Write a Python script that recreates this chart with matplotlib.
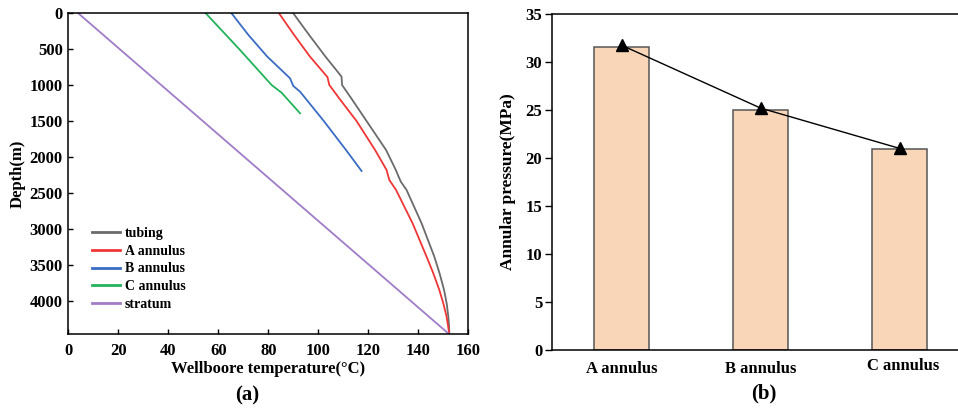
import matplotlib
matplotlib.use("Agg")
import matplotlib.pyplot as plt
import matplotlib.transforms as mtransforms

plt.rcParams['font.family'] = ['Liberation Serif', 'DejaVu Serif']
plt.rcParams['font.weight'] = 'bold'
plt.rcParams['axes.labelweight'] = 'bold'

# (a) wellbore temperature profiles: depth (m) vs temperature (C)
tubing_depth = [0, 300, 600, 882, 998, 1200, 1500, 1903, 2181, 2297, 2344, 2460,
                2923, 3388, 3620, 3852, 4050, 4223, 4350, 4470]
tubing_temp = [90, 96.3, 102.8, 109.3, 109.5, 113.5, 119.3, 127.1, 131.0, 132.4, 133.0,
               135.3, 141.3, 146.4, 148.5, 150.3, 151.4, 152.0, 152.3, 152.4]

a_depth = [0, 300, 600, 890, 998, 1200, 1500, 1903, 2181, 2320, 2460, 2923, 3388,
           3620, 3852, 4050, 4223, 4350, 4470]
a_temp = [84.3, 90.3, 96.6, 103.7, 104.4, 108.7, 115.3, 122.7, 127.3, 128.4, 131.1,
          137.7, 143.3, 146.0, 148.4, 150.1, 151.3, 151.9, 152.4]

b_depth = [0, 300, 600, 905, 1012, 1091, 1500, 1900, 2195]
b_temp = [65.3, 72.0, 79.5, 88.7, 90.0, 92.7, 102.2, 111.0, 117.3]

c_depth = [0, 511, 998, 1105, 1392]
c_temp = [55.0, 68.7, 81.3, 85.3, 92.7]

stratum_depth = [0, 4470]
stratum_temp = [4.0, 152.4]

# (b) annular pressure
annulus = ['A annulus', 'B annulus', 'C annulus']
pressure = [31.6, 25.05, 20.9]
pressure_line = [31.75, 25.2, 21.0]

fig = plt.figure(figsize=(9.58, 4.08), dpi=100)

# ---- panel (a)
ax1 = fig.add_axes([68.3 / 958, 1 - 334.3 / 408, 400 / 958, 321 / 408])
ax1.plot(tubing_temp, tubing_depth, color='#6b6b6b', lw=1.3, label='tubing')
ax1.plot(a_temp, a_depth, color='#f03535', lw=1.3, label='A annulus')
ax1.plot(b_temp, b_depth, color='#3a6cc4', lw=1.3, label='B annulus')
ax1.plot(c_temp, c_depth, color='#22b35a', lw=1.3, label='C annulus')
ax1.plot(stratum_temp, stratum_depth, color='#a07cc8', lw=1.3, label='stratum')
ax1.set_xlim(0, 160)
ax1.set_ylim(4470, 0)
ax1.set_xticks(range(0, 161, 20))
ax1.set_yticks(range(0, 4001, 500))
ax1.tick_params(direction='in', length=3.6, width=1, labelsize=12, top=False, right=False)
ax1.tick_params(axis='x', pad=6)
ax1.tick_params(axis='y', pad=4)
for lab in ax1.get_xticklabels() + ax1.get_yticklabels():
    lab.set_fontweight('bold')
for sp in ax1.spines.values():
    sp.set_linewidth(1.1)
ax1.set_xlabel('Wellboore temperature(°C)', fontsize=12, labelpad=2)
ax1.set_ylabel('Depth(m)', fontsize=12, labelpad=3)
leg = ax1.legend(loc='lower left', bbox_to_anchor=(0.028, 0.035), frameon=False,
                 fontsize=10, handlelength=2.0, handletextpad=0.35, labelspacing=0.33)
for line in leg.get_lines():
    line.set_linewidth(2)

# ---- panel (b)
ax2 = fig.add_axes([552 / 958, 1 - 350 / 408, 406 / 958, 336 / 408])
x = range(len(annulus))
ax2.bar(x, pressure, width=0.4, color='#f9d6b8', edgecolor='#555555', linewidth=1.1, zorder=2)
ax2.plot(x, pressure_line, color='black', lw=1, marker='^', markersize=9, zorder=3)
ax2.set_xlim(-0.5, 2.42)
ax2.set_ylim(0, 35)
ax2.set_yticks(range(0, 36, 5))
ax2.set_xticks(list(x))
ax2.set_xticklabels(annulus)
ax2.spines['right'].set_visible(False)
for sp in ax2.spines.values():
    sp.set_linewidth(1.1)
ax2.tick_params(axis='y', direction='out', length=5, width=1, labelsize=12, pad=2)
ax2.tick_params(axis='x', length=0, labelsize=12, pad=8)
for lab in ax2.get_xticklabels() + ax2.get_yticklabels():
    lab.set_fontweight('bold')
# C annulus label sits a little higher in the original
c_lab = ax2.get_xticklabels()[2]
c_lab.set_transform(c_lab.get_transform() +
                    mtransforms.ScaledTranslation(0.04, 3 / 100, fig.dpi_scale_trans))
ax2.set_ylabel('Annular pressure(MPa)', fontsize=12.5, labelpad=7)

fig.text(247 / 958, 1 - 395 / 408, '(a)', ha='center', va='center', fontsize=15, fontweight='bold')
fig.text(764 / 958, 1 - 393 / 408, '(b)', ha='center', va='center', fontsize=15, fontweight='bold')

fig.savefig('out.png', dpi=100)
